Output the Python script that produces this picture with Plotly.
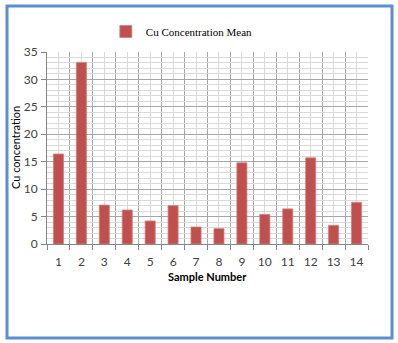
import plotly.graph_objects as go

samples = list(range(1, 15))
cu_mean = [16.4, 33.1, 7.1, 6.2, 4.2, 7.0, 3.1, 2.8, 14.8, 5.4, 6.4, 15.7, 3.4, 7.6]
series_name = "Cu Concentration Mean"

fig = go.Figure()
fig.add_trace(go.Bar(
    x=samples, y=cu_mean, name=series_name,
    marker=dict(color="#c0504d", line=dict(color="#d2817e", width=0.8)),
    width=0.44,
))

grid_dark = "#a6a6a6"
grid_light = "#d9d9d9"
tick_font = dict(family="Lato, Liberation Sans, sans-serif", size=12, color="#404040")
xtitle_font = dict(family="Lato, Liberation Sans, sans-serif", size=11, color="#000000", weight="bold")
ytitle_font = dict(family="Lato, Liberation Sans, sans-serif", size=11, color="#000000")

fig.update_layout(
    width=398, height=343,
    margin=dict(l=47, r=30, t=52, b=99, autoexpand=False),
    paper_bgcolor="white", plot_bgcolor="white",
    showlegend=True,
    legend=dict(orientation="h", x=0.42, xanchor="center", y=(244 - 31.5) / 192, yanchor="middle",
                font=dict(family="Liberation Serif, serif", size=11, color="#000000"),
                bgcolor="rgba(0,0,0,0)"),
    xaxis=dict(
        range=[0.5, 14.5], tickmode="array", tickvals=samples,
        ticktext=[str(s) for s in samples],
        showgrid=True, gridcolor=grid_light, gridwidth=1,
        ticks="", tickfont=tick_font, ticklabelstandoff=7,
        showline=True, linecolor="#868686", linewidth=1,
        minor=dict(tick0=0.5, dtick=1, showgrid=True, gridcolor=grid_dark,
                   ticks="outside", ticklen=5, tickcolor="#868686"),
        zeroline=False,
    ),
    yaxis=dict(
        range=[0, 35], tick0=0, dtick=5,
        showgrid=True, gridcolor=grid_dark, gridwidth=1,
        ticks="outside", ticklen=5, tickcolor="#868686", tickfont=tick_font,
        ticklabelstandoff=1,
        showline=True, linecolor="#868686", linewidth=1,
        minor=dict(dtick=1, showgrid=True, gridcolor=grid_light),
        zeroline=False,
    ),
    bargap=0.55,
    annotations=[
        dict(text="Sample Number", xref="paper", yref="paper", x=0.5, y=-32 / 192,
             xanchor="center", yanchor="middle", showarrow=False, font=xtitle_font),
        dict(text="Cu concentration", xref="paper", yref="paper", x=-32 / 321, y=0.5,
             xanchor="center", yanchor="middle", textangle=-90, showarrow=False, font=ytitle_font),
    ],
)

fig.add_shape(type="rect", xref="paper", yref="paper",
              x0=-0.1246, x1=1.0748, y0=-0.4896, y1=1.2396,
              line=dict(color="#5b8ed2", width=3), fillcolor="rgba(0,0,0,0)", layer="above")

fig.write_html("out.html", config={"displayModeBar": False},
               post_script="document.body.style.margin='0';")
